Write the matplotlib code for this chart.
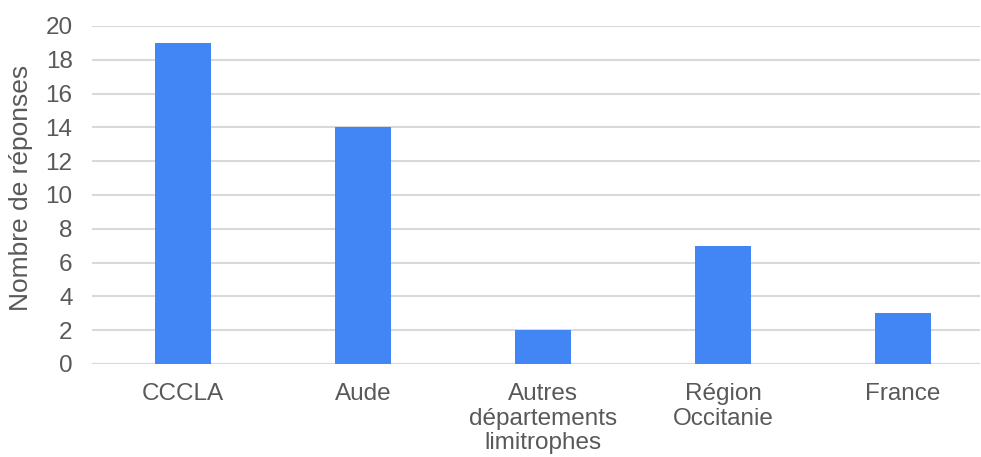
import numpy as np
import matplotlib
matplotlib.use("Agg")
import matplotlib.pyplot as plt

categories = ["CCCLA", "Aude", "Autres\ndépartements\nlimitrophes", "Région\nOccitanie", "France"]
responses = [19, 14, 2, 7, 3]
yticks = [0, 2, 4, 6, 8, 10, 12, 14, 16, 18, 20]

plt.rcParams["font.family"] = ["Liberation Sans", "DejaVu Sans"]
text_color = "#595959"

fig = plt.figure(figsize=(9.81, 4.57), dpi=100)
ax = fig.add_axes([92 / 981, 1 - 364 / 457, (980 - 92) / 981, (364 - 26) / 457])

x = np.arange(len(categories))
ax.bar(x, responses, width=0.31, color="#4285f4", zorder=3)

ax.set_xlim(-0.506, 4.428)
ax.set_ylim(0, 20)
ax.set_yticks(yticks)
ax.yaxis.grid(True, color="#d9d9d9", linewidth=1.5, zorder=0)
ax.set_xticks(x)
ax.set_xticklabels(categories, linespacing=1.13)

for side in ["top", "right", "left", "bottom"]:
    ax.spines[side].set_visible(False)
ax.axhline(0, color="#d9d9d9", linewidth=1.5, zorder=1)

ax.tick_params(axis="y", length=0, pad=14, labelsize=17.5, labelcolor=text_color)
ax.tick_params(axis="x", length=0, pad=14, labelsize=17.5, labelcolor=text_color)
ax.set_ylabel("Nombre de réponses", fontsize=19, color=text_color)
ax.yaxis.set_label_coords(-0.066, 0.52)

fig.savefig("out.png", dpi=100)
